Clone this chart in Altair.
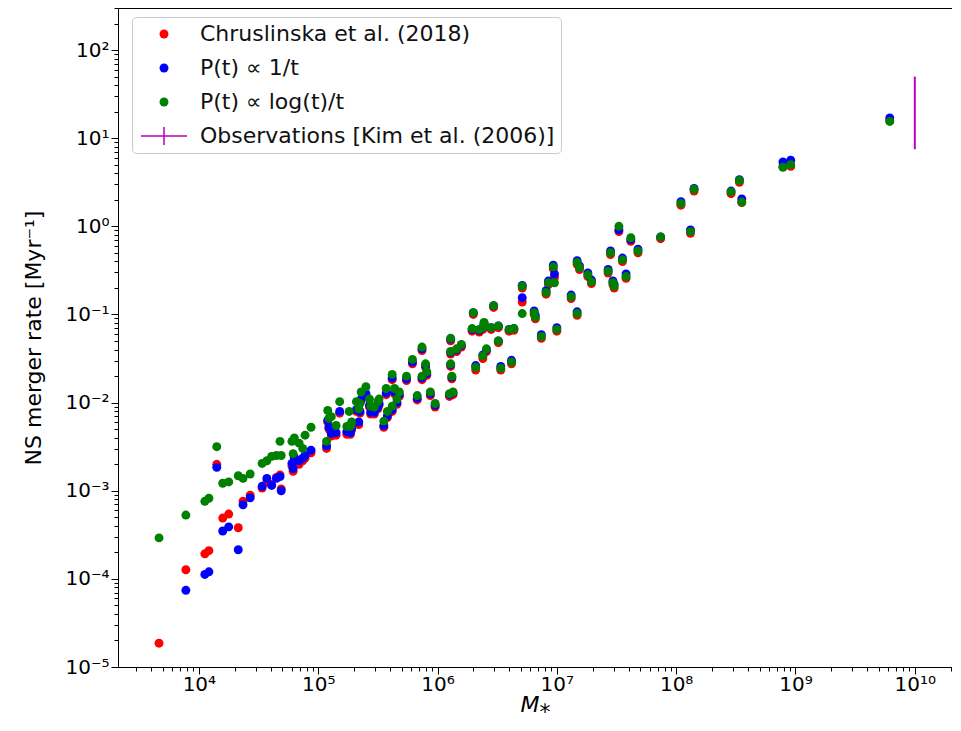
import altair as alt
import pandas as pd

# ---------------- data (log10 units) ----------------
SERIES = ["Chruslinska et al. (2018)", "P(t) ∝ 1/t", "P(t) ∝ log(t)/t"]
OBS_LABEL = "Observations [Kim et al. (2006)]"
SERIES_COLORS = ["#ff0000", "#0000ff", "#008000"]
OBS_COLOR = "#bf00bf"

log_mass = [3.666, 3.891, 4.05, 4.084, 4.15, 4.20, 4.25, 4.33, 4.37, 4.43,
            4.53, 4.57, 4.61, 4.65, 4.69, 4.68, 4.78, 4.79, 4.80, 4.84,
            4.87, 4.89, 4.94, 5.07, 5.08, 5.09, 5.11, 5.15, 5.18, 5.24,
            5.26, 5.27, 5.28, 5.32, 5.34, 5.35, 5.36, 5.40, 5.43, 5.44,
            5.47, 5.50, 5.51, 5.55, 5.57, 5.58, 5.62, 5.62, 5.64, 5.66,
            5.68, 5.74, 5.79, 5.83, 5.87, 5.87, 5.90, 5.91, 5.94, 5.98,
            6.10, 6.11, 6.11, 6.11, 6.12, 6.13, 6.16, 6.20, 6.29, 6.30,
            6.32, 6.35, 6.38, 6.38, 6.39, 6.41, 6.45, 6.47, 6.51, 6.51,
            6.53, 6.60, 6.62, 6.64, 6.71, 6.71, 6.81, 6.82, 6.87, 6.91,
            6.93, 6.97, 6.98, 7.00, 7.12, 7.17, 7.17, 7.19, 7.26, 7.29,
            7.43, 7.45, 7.47, 7.48, 7.52, 7.55, 7.58, 7.62, 7.68, 7.87,
            8.04, 8.12, 8.15, 8.46, 8.53, 8.55, 8.895, 8.96, 9.79]

log_rate_chruslinska = [
    -4.73, -3.897, -3.716, -3.68, -2.70, -3.31, -3.265, -3.42, -3.12, -3.05,
    -2.97, -2.90, -2.93, -2.85, -2.98, -2.82, -2.72, -2.78, -2.64, -2.70,
    -2.66, -2.63, -2.57, -2.52, -2.22, -2.30, -2.38, -2.37, -2.12, -2.36,
    -2.32, -2.36, -2.31, -2.10, -2.25, -2.12, -1.98, -1.92, -2.05, -2.13,
    -2.13, -2.07, -2.03, -2.28, -1.91, -2.17, -2.10, -1.74, -1.90, -2.02,
    -1.93, -1.75, -1.56, -1.97, -1.41, -1.74, -1.60, -1.69, -1.92, -2.05,
    -1.93, -1.30, -1.45, -1.59, -1.73, -1.91, -1.42, -1.37, -1.19, -1.00,
    -1.63, -1.20, -1.17, -1.50, -1.12, -1.42, -1.17, -0.92, -1.15, -1.32,
    -1.63, -1.19, -1.56, -1.18, -0.70, -0.86, -1.00, -1.05, -1.27, -0.77,
    -0.66, -0.48, -0.58, -1.19, -0.82, -1.01, -0.43, -0.49, -0.57, -0.65,
    -0.53, -0.32, -0.66, -0.70, -0.06, -0.40, -0.59, -0.17, -0.30, -0.14,
    0.24, -0.08, 0.40, 0.37, 0.50, 0.27, 0.68, 0.68, 1.20]

log_rate_inv_t = [
    None, -4.13, -3.95, -3.92, -2.735, -3.457, -3.41, -3.67, -3.16, -3.08,
    -2.95, -2.86, -2.94, -2.86, -3.00, -2.84, -2.69, -2.75, -2.62, -2.66,
    -2.63, -2.60, -2.54, -2.49, -2.20, -2.28, -2.35, -2.34, -2.10, -2.33,
    -2.30, -2.34, -2.29, -2.08, -2.22, -2.10, -1.96, -1.90, -2.03, -2.11,
    -2.11, -2.05, -2.01, -2.26, -1.89, -2.15, -2.08, -1.72, -1.88, -2.00,
    -1.91, -1.73, -1.54, -1.95, -1.39, -1.72, -1.58, -1.67, -1.90, -2.03,
    -1.91, -1.28, -1.43, -1.57, -1.71, -1.89, -1.40, -1.35, -1.17, -0.98,
    -1.58, -1.18, -1.15, -1.46, -1.10, -1.40, -1.15, -0.90, -1.13, -1.30,
    -1.59, -1.17, -1.52, -1.16, -0.67, -0.81, -0.96, -1.01, -1.23, -0.73,
    -0.62, -0.44, -0.54, -1.15, -0.78, -0.97, -0.39, -0.45, -0.53, -0.61,
    -0.49, -0.28, -0.62, -0.66, -0.04, -0.36, -0.54, -0.15, -0.26, -0.12,
    0.28, -0.04, 0.43, 0.40, 0.53, 0.31, 0.73, 0.75, 1.23]

log_rate_log_t = [
    -3.535, -3.276, -3.12, -3.085, -2.50, -2.915, -2.90, -2.83, -2.86, -2.81,
    -2.69, -2.66, -2.61, -2.60, -2.60, -2.44, -2.44, -2.58, -2.40, -2.46,
    -2.52, -2.37, -2.28, -2.44, -2.09, -2.18, -2.16, -2.26, -1.99, -2.27,
    -2.10, -2.27, -2.22, -1.99, -2.07, -2.01, -1.88, -1.82, -1.96, -2.04,
    -2.05, -1.99, -1.96, -2.21, -1.84, -2.10, -2.04, -1.68, -1.84, -1.96,
    -1.88, -1.70, -1.51, -1.92, -1.37, -1.70, -1.56, -1.65, -1.88, -2.01,
    -1.90, -1.27, -1.42, -1.56, -1.70, -1.88, -1.39, -1.34, -1.16, -0.98,
    -1.60, -1.17, -1.15, -1.47, -1.09, -1.39, -1.15, -0.90, -1.13, -1.30,
    -1.61, -1.17, -1.54, -1.16, -0.68, -0.99, -0.98, -1.03, -1.25, -0.75,
    -0.64, -0.46, -0.64, -1.17, -0.80, -0.99, -0.41, -0.47, -0.55, -0.63,
    -0.51, -0.30, -0.64, -0.68, 0.00, -0.38, -0.57, -0.13, -0.28, -0.12,
    0.26, -0.06, 0.42, 0.39, 0.52, 0.275, 0.67, 0.70, 1.19]

obs_mass = [1.0e10]
obs_rate_low = [7.5]
obs_rate_high = [50.0]

x_major = [1e4, 1e5, 1e6, 1e7, 1e8, 1e9, 1e10]
y_major = [1e-5, 1e-4, 1e-3, 1e-2, 1e-1, 1e0, 1e1, 1e2]
x_domain = [2100, 2.05e10]
y_domain = [1e-5, 300]

# ---------------- tables ----------------
rows = []
for name, ys in zip(SERIES, [log_rate_chruslinska, log_rate_inv_t, log_rate_log_t]):
    for lx, ly in zip(log_mass, ys):
        if ly is not None:
            rows.append({"series": name, "mass": 10 ** lx, "rate": 10 ** ly})
df = pd.DataFrame(rows)
obs_df = pd.DataFrame({"mass": obs_mass, "lo": obs_rate_low, "hi": obs_rate_high})

x_minor = [m * 10 ** k for k in range(3, 11) for m in range(2, 10)
           if x_domain[0] <= m * 10 ** k <= x_domain[1]]
y_minor = [m * 10.0 ** k for k in range(-5, 3) for m in range(2, 10)
           if y_domain[0] <= m * 10.0 ** k <= y_domain[1]]

sup = "toString(round(log(datum.value)/LN10))"
for a, b in [("-", "⁻"), ("0", "⁰"), ("1", "¹"), ("2", "²"), ("3", "³"), ("4", "⁴"),
             ("5", "⁵"), ("6", "⁶"), ("7", "⁷"), ("8", "⁸"), ("9", "⁹")]:
    sup = f"replace({sup}, '{a}', '{b}')"
label_expr = "'10' + " + sup

W, H = 834, 659
FONT = "DejaVu Sans"

xscale = alt.Scale(type="log", domain=x_domain, nice=False)
yscale = alt.Scale(type="log", domain=y_domain, nice=False)

x_axis_major = alt.Axis(orient="bottom", values=x_major, labelExpr=label_expr, tickSize=7,
                        labelPadding=0, domain=False, grid=False, labelOverlap=False,
                        labelFlush=False, labelFontSize=20, labelFont=FONT, labelColor="black",
                        tickColor="black", title="M⁎", titleFont=FONT, titleFontSize=22,
                        titleFontStyle="italic", titleFontWeight="normal", titleColor="black",
                        titleX=W / 2, titleY=44, titleBaseline="alphabetic", titleAlign="center")
y_axis_major = alt.Axis(orient="left", values=y_major, labelExpr=label_expr, tickSize=7,
                        labelPadding=2, domain=False, grid=False, labelOverlap=False,
                        labelFlush=False, labelFontSize=20, labelFont=FONT, labelColor="black",
                        tickColor="black", title="NS merger rate [Myr⁻¹]", titleFont=FONT,
                        titleFontSize=22, titleFontWeight="normal", titleColor="black",
                        titleX=-85, titleY=H / 2, titleAngle=270, titleBaseline="middle",
                        titleAlign="center")
x_axis_minor = alt.Axis(orient="bottom", values=x_minor, labels=False, tickSize=4,
                        domain=False, grid=False, tickColor="black", title=None)
y_axis_minor = alt.Axis(orient="left", values=y_minor, labels=False, tickSize=4,
                        domain=False, grid=False, tickColor="black", title=None)

domain_all = SERIES + [OBS_LABEL]
cross_path = "M-5.15,-0.17H5.15V0.17H-5.15Z M-0.17,-2H0.17V2H-0.17Z"
color_scale = alt.Scale(domain=domain_all, range=SERIES_COLORS + [OBS_COLOR])
shape_scale = alt.Scale(domain=domain_all, range=["circle", "circle", "circle", cross_path])

legend = alt.Legend(title=None, orient="none", legendX=14, legendY=9, fillColor="white",
                    strokeColor="#cccccc", cornerRadius=4, padding=6, labelFont=FONT,
                    labelFontSize=22, labelColor="#111111", labelLimit=600, symbolSize=80,
                    symbolStrokeWidth=0, rowPadding=12, symbolOffset=15, labelOffset=25)

points = alt.Chart(df).mark_point(filled=True, size=80, opacity=1, strokeWidth=0).encode(
    x=alt.X("mass:Q", scale=xscale, axis=x_axis_major),
    y=alt.Y("rate:Q", scale=yscale, axis=y_axis_major),
    color=alt.Color("series:N", scale=color_scale, legend=legend),
    shape=alt.Shape("series:N", scale=shape_scale, legend=legend),
)

obs = alt.Chart(obs_df).mark_rule(color=OBS_COLOR, strokeWidth=2).encode(
    x=alt.X("mass:Q", scale=xscale, axis=x_axis_minor),
    y=alt.Y("lo:Q", scale=yscale, axis=y_axis_minor),
    y2="hi:Q",
)

chart = alt.layer(points, obs).resolve_axis(x="independent", y="independent").properties(
    width=W, height=H,
    autosize=alt.AutoSizeParams(type="none"),
    padding={"left": 110, "top": 0, "right": 0, "bottom": 50},
).configure_view(stroke="black", strokeWidth=1)

chart.save("out.html", embed_options={"renderer": "svg", "actions": False})
